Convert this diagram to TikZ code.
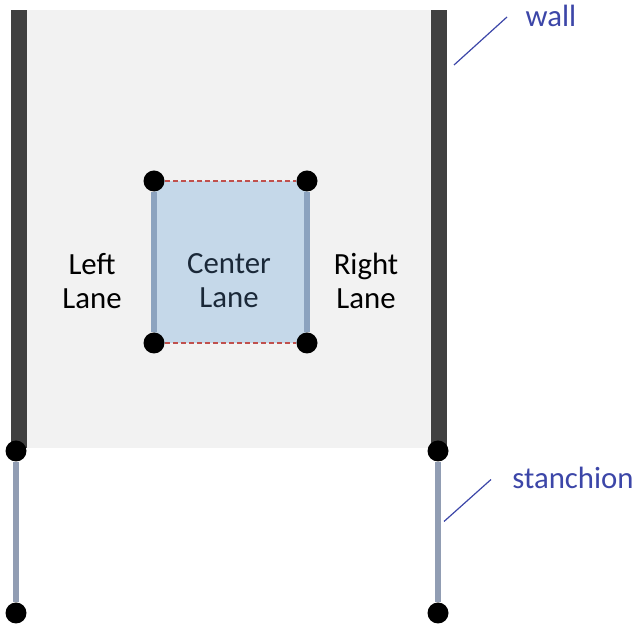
\documentclass[tikz,border=0pt]{standalone}
\usepackage{fontspec}
\setmainfont{Carlito}
\usetikzlibrary{backgrounds}
\definecolor{wallgray}{HTML}{404040}
\definecolor{floorgray}{HTML}{F2F2F2}
\definecolor{poleblue}{HTML}{919DB3}
\definecolor{laneside}{HTML}{8CA3BF}
\definecolor{lanefill}{HTML}{C5D8E9}
\definecolor{laneedge}{HTML}{C0504D}
\definecolor{calloutblue}{HTML}{3C46A8}
\definecolor{lanetextc}{HTML}{1A2838}
\tikzset{
  dot/.style={circle, fill=black, inner sep=0pt, minimum size=10.5pt},
  pole/.style={line width=3pt, poleblue},
  lanewall/.style={line width=3pt, laneside},
  laneline/.style={line width=0.75pt, laneedge, dash pattern=on 2.5pt off 1.5pt},
  leader/.style={line width=0.6pt, calloutblue},
  lanetext/.style={align=center, font=\fontsize{15.4}{17}\selectfont},
  callout/.style={anchor=base, text=calloutblue, inner sep=0pt, font=\fontsize{15.4}{17}\selectfont}
}
\begin{document}
\begin{tikzpicture}[x=0.5pt,y=-0.5pt]
	\useasboundingbox (0,0) rectangle (638,624);
	
	%stanchions
	\node[dot] (stlt) at (16,451) {};
	\node[dot] (stlb) at (16,613) {};
	\node[dot] (strt) at (438,451) {};
	\node[dot] (strb) at (438,613) {};
	\draw[pole] (stlt) -- (stlb);
	\draw[pole] (strt) -- (strb);
	
	%center lane
	\node[dot] (ctl) at (154,181) {};
	\node[dot] (ctr) at (307,181) {};
	\node[dot] (cbl) at (154,343) {};
	\node[dot] (cbr) at (307,343) {};
	\begin{scope}[on background layer]
	%floor and walls
	\fill[floorgray] (27,10) rectangle (431,448);
	\fill[wallgray] (11,10) rectangle (27,448);
	\fill[wallgray] (431,10) rectangle (447,448);
	\fill[lanefill] (ctl.center) rectangle (cbr.center);
	\end{scope}
	\draw[lanewall] (ctl) -- (cbl);
	\draw[lanewall] (ctr) -- (cbr);
	\draw[laneline] (ctl) -- (ctr);
	\draw[laneline] (cbl) -- (cbr);
	
	\node[lanetext] (leftlane) at (92,281) {Left\\Lane};
	\node[lanetext, text=lanetextc] (centerlane) at (229,281) {Center\\Lane};
	\node[lanetext] (rightlane) at (366,281) {Right\\Lane};
	
	%callouts
	\node[callout] (walltxt) at (551,26.5) {wall};
	\coordinate (wallpt) at (454,65);
	\coordinate (wallend) at (507,17);
	\draw[leader] (wallpt) -- (wallend);
	
	\node[callout] (stantxt) at (573,489) {stanchion};
	\coordinate (stanpt) at (444,521.5);
	\coordinate (stanend) at (491,479.5);
	\draw[leader] (stanpt) -- (stanend);
\end{tikzpicture}
\end{document}
